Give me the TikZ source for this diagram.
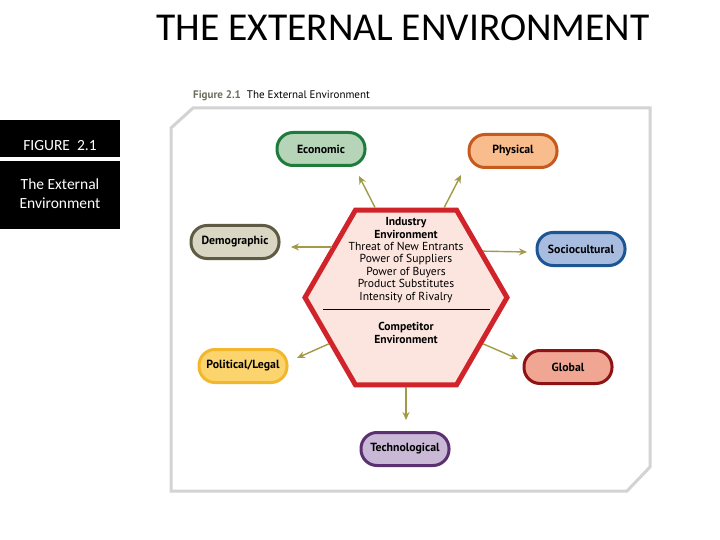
\documentclass[tikz,border=0pt]{standalone}
\usepackage{fontspec}
\setmainfont{PT Sans}
\newfontfamily\slidefont{Carlito}
\usetikzlibrary{shapes.geometric,arrows.meta}

\definecolor{econfill}{HTML}{B5D4B8}
\definecolor{econline}{HTML}{1E7B3C}
\definecolor{physfill}{HTML}{F9BC8C}
\definecolor{physline}{HTML}{C65A1E}
\definecolor{demofill}{HTML}{D9D7C3}
\definecolor{demoline}{HTML}{5E5A44}
\definecolor{sociofill}{HTML}{A8BCE0}
\definecolor{socioline}{HTML}{1B5593}
\definecolor{polfill}{HTML}{FBD46E}
\definecolor{polline}{HTML}{F2B72C}
\definecolor{globfill}{HTML}{F0A693}
\definecolor{globline}{HTML}{8C1414}
\definecolor{techfill}{HTML}{C9B8D6}
\definecolor{techline}{HTML}{5B3070}
\definecolor{arrowcol}{HTML}{A39A48}
\definecolor{hexred}{HTML}{D1232A}
\definecolor{hexfill}{HTML}{FBE5DE}
\definecolor{framegray}{HTML}{D3D3D3}
\definecolor{capgray}{HTML}{6E6E5E}

\tikzset{
  pill/.style={draw, line width=3pt, rounded corners=16pt, minimum width=88pt,
    minimum height=33pt, inner sep=0pt, font=\fontsize{11.8}{13}\selectfont\bfseries},
  arr/.style={draw=arrowcol, line width=1.4pt, -{Stealth[length=8pt,width=7pt]}},
  slidetext/.style={text=white, align=center, font=\slidefont\fontsize{15.5}{19}\selectfont},
}

\begin{document}
\begin{tikzpicture}[x=1pt,y=-1pt]
    \useasboundingbox[fill=white] (0,0) rectangle (720,540);

    % slide title and side box
    \node[anchor=base, font=\slidefont\fontsize{39.5}{40}\selectfont] (title) at (403,41) {THE EXTERNAL ENVIRONMENT};
    \fill (0,120) rectangle (120,157);
    \fill (0,161) rectangle (120,229);
    \node[slidetext] (fignum) at (60,146) {FIGURE\ \ 2.1};
    \node[slidetext] (figname) at (60,193.5) {The External\\Environment};

    % figure caption and frame
    \node[anchor=base west, inner sep=0pt, font=\fontsize{11}{12}\selectfont] (caption) at (193,99)
      {\textcolor{capgray}{\textbf{Figure 2.1}}\hspace{6pt}The External Environment};
    \draw[framegray, line width=3pt] (193,108) -- (650,108) -- (650,467) -- (627,491)
      -- (171,491) -- (171,128) -- cycle;

    % centre hexagon
    \node[regular polygon, regular polygon sides=6, minimum size=202pt, inner sep=0pt,
      draw=hexred, line width=5pt, fill=hexfill] (hex) at (406,297.5) {};
    \draw[line width=0.8pt] (323,309) -- (490,309);
    \node[align=center, font=\fontsize{11.6}{12.4}\selectfont] (industry) at (406,260) {
      \textbf{Industry}\\
      \textbf{Environment}\\
      Threat of New Entrants\\
      Power of Suppliers\\
      Power of Buyers\\
      Product Substitutes\\
      Intensity of Rivalry
    };
    \node[align=center, font=\fontsize{11.6}{12.4}\selectfont\bfseries] (competitor) at (406,333) {
      Competitor\\
      Environment
    };

    % outer forces
    \node[pill, draw=econline, fill=econfill] (econ) at (321,149) {Economic};
    \node[pill, draw=physline, fill=physfill] (phys) at (513,151) {Physical};
    \node[pill, draw=demoline, fill=demofill] (demo) at (235,242) {Demographic};
    \node[pill, draw=socioline, fill=sociofill] (socio) at (581,249) {Sociocultural};
    \node[pill, draw=polline, fill=polfill] (pol) at (243,366) {Political/Legal};
    \node[pill, draw=globline, fill=globfill] (glob) at (568,367) {Global};
    \node[pill, draw=techline, fill=techfill] (tech) at (405,449) {Technological};

    % arrow tips
    \coordinate (econtip) at (359,176);
    \coordinate (phystip) at (461,175);
    \coordinate (demotip) at (291,247);
    \coordinate (sociotip) at (527,252);
    \coordinate (poltip) at (297,358);
    \coordinate (globtip) at (518,359);
    \coordinate (techtip) at (406,420);

    \draw[arr] (hex.146) -- (demotip -| hex.146) -- (demotip);
    \draw[arr] (hex.109) -- (econtip);
    \draw[arr] (hex.67) -- (phystip);
    \draw[arr] (hex.31) -- (sociotip);
    \draw[arr] (hex.211) -- (poltip);
    \draw[arr] (hex.329) -- (globtip);
    \draw[arr] (hex.270) -- (techtip);
  \end{tikzpicture}
\end{document}
